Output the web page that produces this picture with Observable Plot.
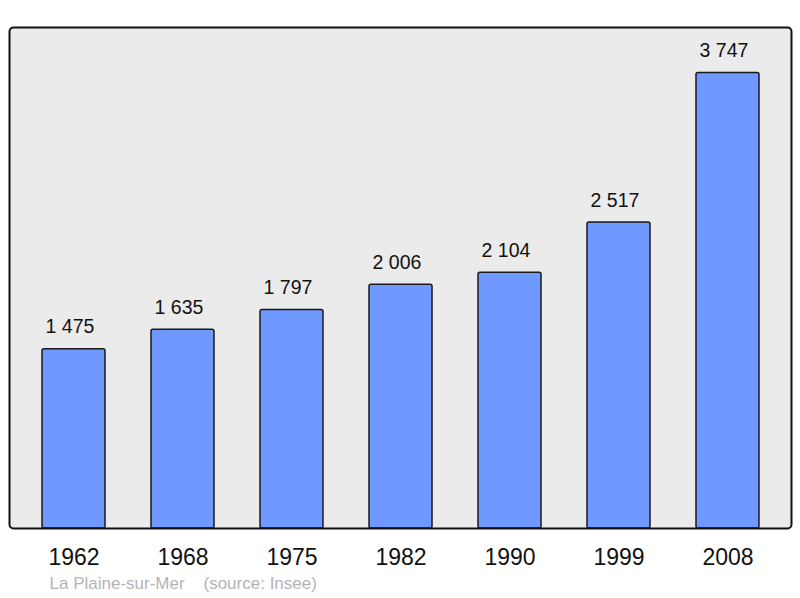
<!DOCTYPE html>
<html>
<head>
<meta charset="utf-8">
<script src="https://cdn.jsdelivr.net/npm/d3@7"></script>
<script src="https://cdn.jsdelivr.net/npm/@observablehq/plot@0.6"></script>
<style>
  html, body { margin: 0; padding: 0; background: #ffffff; }
  #chart { width: 800px; height: 598px; }
</style>
</head>
<body>
<div id="chart"></div>
<script>
const years = ["1962", "1968", "1975", "1982", "1990", "1999", "2008"];
const population = [1475, 1635, 1797, 2006, 2104, 2517, 3747];
const commune = "La Plaine-sur-Mer";
const source = "(source: Insee)";

const data = years.map((y, i) => ({year: y, pop: population[i]}));
const fmt = d3.formatLocale({decimal: ",", thousands: "\u00a0", grouping: [3], currency: ["", " €"]}).format(",d");

const chart = Plot.plot({
  width: 800,
  height: 598,
  marginLeft: 9,
  marginRight: 9,
  marginTop: 27,
  marginBottom: 70,
  style: {fontFamily: "'Liberation Sans', Arial, sans-serif", background: "#ffffff", overflow: "visible"},
  x: {domain: years, range: [17.5, 784.5], paddingInner: 0.42, paddingOuter: 0.21, label: null},
  y: {domain: [0, 4122], axis: null},
  marks: [
    Plot.frame({fill: "#ebebeb", stroke: "none", rx: 4}),
    Plot.barY(data, {x: "year", y: "pop", fill: "#7099ff", stroke: "#1a1a1a", strokeWidth: 1.5, rx: 2}),
    Plot.text(data, {x: "year", y: "pop", text: d => fmt(d.pop), dy: -22, dx: -4, fontSize: 19.5, fill: "#111"}),
    Plot.frame({stroke: "#111", strokeWidth: 2, rx: 4}),
    Plot.axisX({tickSize: 0, tickPadding: 20, fontSize: 23, fill: "#111", label: null}),
    Plot.text([`${commune}    ${source}`], {frameAnchor: "bottom-left", dx: 40, dy: 60, fontSize: 17, fill: "#b4b4b4", textAnchor: "start", style: "white-space:pre"})
  ]
});
document.getElementById("chart").appendChild(chart);
</script>
</body>
</html>
